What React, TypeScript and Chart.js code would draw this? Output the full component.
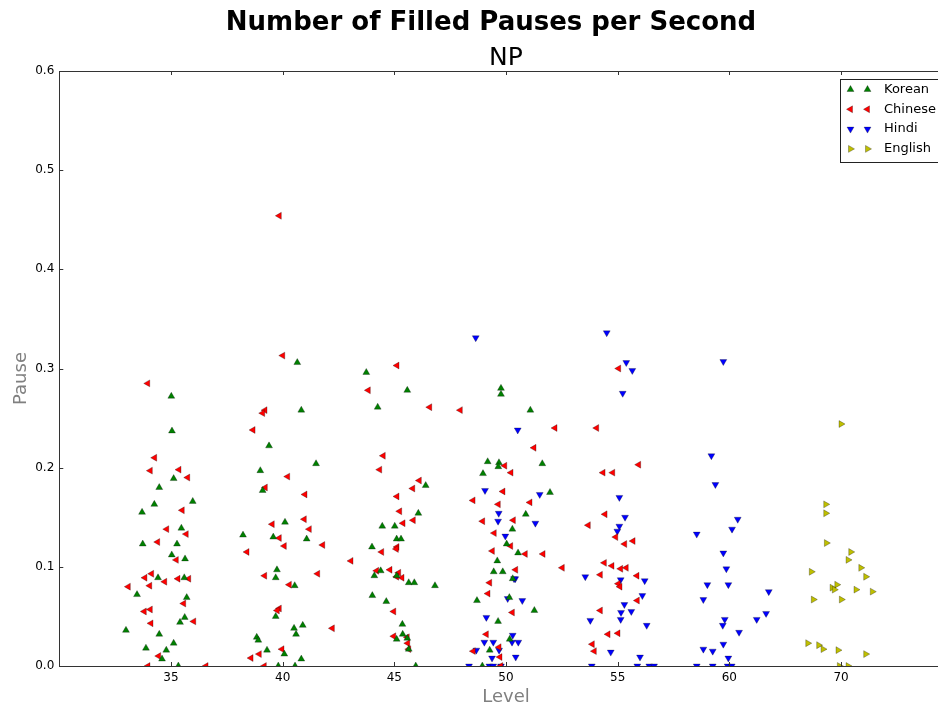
import React, { useEffect, useRef } from 'react';
import { Chart, registerables } from 'chart.js';

Chart.register(...registerables);

// Level categories sit at slots 1..7 on the x axis; points carry a small jitter around their slot.
const levels = ['35', '40', '45', '50', '55', '60', '70'];
const yTickValues = [0, 0.1, 0.2, 0.3, 0.4, 0.5, 0.6];

const koreanX = [
  1.003, 1.009, 1.024, 0.895, 1.195, 0.851, 0.741, 1.093, 0.747, 1.054, 1.007, 1.126, 0.884, 1.119, 0.696, 1.141,
  1.123, 1.081, 0.597, 0.895, 1.024, 0.776, 0.958, 0.92, 1.066,
  2.131, 2.167, 1.878, 2.299, 1.8, 1.821, 2.021, 1.645, 1.916, 2.215, 1.949, 1.938, 2.108, 1.938, 2.18, 2.102,
  2.12, 1.768, 1.782, 1.86, 2.015, 2.167, 1.961, 2.111,
  2.749, 3.116, 2.851, 3.281, 3.215, 2.892, 3.004, 3.021, 3.06, 2.8, 2.878, 2.821, 3.021, 3.129, 3.179, 2.803,
  2.928, 3.072, 3.075, 3.021, 3.116, 3.129, 3.192,
  3.955, 3.955, 4.218, 3.836, 3.937, 3.931, 4.325, 3.794, 4.394, 4.177, 4.057, 4.006, 4.108, 3.922, 3.89, 3.971,
  4.06, 3.364, 3.74, 4.03, 4.254, 3.929, 4.033, 3.854, 3.788,
];
const koreanY = [
  0.272, 0.237, 0.189, 0.18, 0.166, 0.163, 0.155, 0.139, 0.123, 0.123, 0.112, 0.108, 0.089, 0.089, 0.072, 0.069,
  0.049, 0.044, 0.036, 0.032, 0.023, 0.018, 0.016, 0.007, 0.0,
  0.306, 0.258, 0.222, 0.204, 0.197, 0.177, 0.145, 0.132, 0.13, 0.128, 0.097, 0.089, 0.081, 0.05, 0.041, 0.038,
  0.032, 0.029, 0.026, 0.016, 0.012, 0.007, 0.0, 0.0,
  0.296, 0.278, 0.261, 0.182, 0.154, 0.141, 0.141, 0.128, 0.128, 0.12, 0.096, 0.091, 0.091, 0.084, 0.084, 0.071,
  0.065, 0.042, 0.032, 0.027, 0.028, 0.017, 0.0,
  0.28, 0.274, 0.258, 0.206, 0.205, 0.201, 0.204, 0.194, 0.175, 0.153, 0.138, 0.123, 0.114, 0.106, 0.095, 0.095,
  0.088, 0.081, 0.066, 0.069, 0.056, 0.045, 0.027, 0.016, 0.0,
];

const chineseX = [
  0.792, 0.854, 0.815, 1.072, 1.15, 1.101, 0.962, 1.137, 0.881, 1.048, 0.827, 0.767, 0.944, 1.063, 1.159, 0.618,
  0.81, 1.114, 0.761, 0.815, 0.821, 1.204, 0.89, 0.794, 1.314,
  1.97, 2.001, 1.842, 1.821, 1.735, 2.045, 1.845, 2.2, 2.194, 1.907, 2.239, 1.97, 1.681, 2.015, 2.359, 1.839,
  2.314, 2.06, 1.97, 1.952, 1.994, 1.791, 1.717, 1.836,
  3.024, 2.767, 3.317, 3.591, 2.901, 2.869, 3.224, 3.165, 3.024, 3.048, 3.17, 3.078, 2.887, 3.024, 3.018, 2.612,
  2.842, 2.961, 3.039, 3.021, 3.069, 2.995, 2.445, 2.995, 3.116, 3.12, 3.129,
  4.439, 4.251, 3.989, 4.045, 3.973, 3.705, 3.931, 4.215, 3.791, 4.066, 3.895, 4.042, 3.878, 4.173, 4.332, 4.504,
  4.087, 3.854, 3.839, 4.057, 3.824, 3.707, 3.938, 3.946, 3.953,
  5.009, 4.812, 5.188, 4.869, 4.956, 4.887, 4.737, 4.983, 5.063, 5.138, 4.881, 4.949, 5.027, 5.077, 4.845, 5.173,
  5.006, 5.021, 5.176, 4.845, 4.914, 5.003, 4.773, 4.791,
];
const chineseY = [
  0.285, 0.21, 0.197, 0.198, 0.19, 0.157, 0.138, 0.133, 0.125, 0.107, 0.093, 0.089, 0.085, 0.088, 0.088, 0.08,
  0.081, 0.063, 0.055, 0.057, 0.043, 0.045, 0.01, 0.0, 0.0,
  0.454, 0.313, 0.258, 0.255, 0.238, 0.191, 0.18, 0.173, 0.148, 0.143, 0.138, 0.129, 0.115, 0.121, 0.122, 0.091,
  0.093, 0.082, 0.058, 0.056, 0.017, 0.012, 0.008, 0.0,
  0.303, 0.278, 0.261, 0.258, 0.212, 0.198, 0.187, 0.179, 0.171, 0.156, 0.147, 0.144, 0.115, 0.12, 0.118, 0.106,
  0.096, 0.097, 0.094, 0.09, 0.089, 0.055, 0.038, 0.03, 0.029, 0.023, 0.017,
  0.24, 0.22, 0.202, 0.195, 0.176, 0.167, 0.163, 0.165, 0.146, 0.147, 0.134, 0.121, 0.116, 0.113, 0.113, 0.099,
  0.097, 0.084, 0.073, 0.054, 0.032, 0.015, 0.019, 0.009, 0.0,
  0.3, 0.24, 0.203, 0.195, 0.195, 0.153, 0.142, 0.13, 0.123, 0.126, 0.104, 0.101, 0.098, 0.099, 0.092, 0.091,
  0.083, 0.08, 0.066, 0.056, 0.032, 0.033, 0.022, 0.015,
];

const hindiX = [
  3.729, 4.105, 3.812, 4.302, 3.935, 3.929, 4.263, 3.994, 4.083, 4.072, 4.015, 4.146, 3.824, 4.06, 3.806, 3.886,
  4.054, 4.11, 3.734, 3.938, 3.875, 4.087, 3.669, 3.851, 3.886, 3.955,
  4.902, 5.077, 5.131, 5.045, 5.015, 5.066, 5.015, 4.997, 4.71, 5.027, 5.242, 5.221, 5.06, 5.122, 5.03, 4.755,
  5.027, 5.26, 4.938, 5.2, 4.768, 5.176, 5.283, 5.326,
  5.946, 5.839, 5.875, 6.075, 6.024, 5.708, 5.946, 5.973, 5.803, 5.991, 6.353, 5.767, 6.329, 5.959, 6.245, 5.941,
  6.087, 5.946, 5.767, 5.851, 5.991, 5.708, 5.851, 5.985, 6.021,
];
const hindiY = [
  0.331, 0.238, 0.177, 0.173, 0.154, 0.146, 0.144, 0.131, 0.088, 0.088, 0.068, 0.066, 0.049, 0.031, 0.024, 0.024,
  0.024, 0.024, 0.016, 0.016, 0.008, 0.009, 0.0, 0.0, 0.0, 0.0,
  0.336, 0.306, 0.298, 0.275, 0.17, 0.15, 0.141, 0.136, 0.09, 0.087, 0.086, 0.071, 0.062, 0.055, 0.054, 0.046,
  0.047, 0.041, 0.014, 0.009, 0.0, 0.0, 0.0, 0.0,
  0.307, 0.212, 0.183, 0.148, 0.138, 0.133, 0.114, 0.098, 0.082, 0.082, 0.075, 0.067, 0.053, 0.047, 0.047, 0.041,
  0.034, 0.022, 0.017, 0.015, 0.008, 0.0, 0.0, 0.0, 0.0,
];

const englishX = [
  7.0, 6.863, 6.863, 6.869, 7.087, 7.063, 7.177, 6.734, 7.221, 6.962, 6.92, 6.94, 7.134, 7.28, 6.752, 7.003,
  6.702, 6.8, 6.839, 6.973, 7.221, 6.985, 7.063,
];
const englishY = [
  0.244, 0.163, 0.154, 0.124, 0.115, 0.107, 0.099, 0.095, 0.09, 0.082, 0.079, 0.077, 0.077, 0.075, 0.067, 0.067,
  0.023, 0.021, 0.017, 0.016, 0.012, 0.0, 0.0,
];

const FONT = "'DejaVu Sans', sans-serif";
const CANVAS_W = 980;
const CANVAS_H = 708;

const series = [
  { label: 'Korean', xs: koreanX, ys: koreanY, color: '#008000', rotation: 0 },
  { label: 'Chinese', xs: chineseX, ys: chineseY, color: '#ff0000', rotation: 270 },
  { label: 'Hindi', xs: hindiX, ys: hindiY, color: '#0000ff', rotation: 180 },
  { label: 'English', xs: englishX, ys: englishY, color: '#bfbf00', rotation: 90 },
];

function triangle(ctx: CanvasRenderingContext2D, x: number, y: number, r: number, rotDeg: number) {
  let rad = (rotDeg * Math.PI) / 180;
  ctx.beginPath();
  for (let k = 0; k < 3; k++) {
    const px = x + Math.sin(rad) * r;
    const py = y - Math.cos(rad) * r;
    if (k === 0) ctx.moveTo(px, py);
    else ctx.lineTo(px, py);
    rad += (2 * Math.PI) / 3;
  }
  ctx.closePath();
}

const decorPlugin = {
  id: 'decor',
  afterDraw(chart: any) {
    const { ctx, chartArea } = chart;
    const { left, right, top, bottom } = chartArea;
    const xs = chart.scales.x;
    const ysc = chart.scales.y;
    ctx.save();

    // axes frame
    ctx.strokeStyle = '#333';
    ctx.lineWidth = 1;
    ctx.strokeRect(Math.round(left) + 0.5, Math.round(top) + 0.5, Math.round(right - left), Math.round(bottom - top));

    // inward tick marks on all four sides
    ctx.beginPath();
    for (let i = 1; i <= levels.length; i++) {
      const px = Math.round(xs.getPixelForValue(i)) + 0.5;
      ctx.moveTo(px, bottom);
      ctx.lineTo(px, bottom - 4);
      ctx.moveTo(px, top);
      ctx.lineTo(px, top + 4);
    }
    for (const v of yTickValues) {
      const py = Math.round(ysc.getPixelForValue(v)) + 0.5;
      ctx.moveTo(left, py);
      ctx.lineTo(left + 4, py);
      ctx.moveTo(right, py);
      ctx.lineTo(right - 4, py);
    }
    ctx.stroke();

    // titles
    ctx.fillStyle = '#000';
    ctx.textAlign = 'center';
    ctx.textBaseline = 'middle';
    ctx.font = `bold 26px ${FONT}`;
    ctx.fillText('Number of Filled Pauses per Second', 491, 23);
    ctx.font = `25px ${FONT}`;
    ctx.fillText('NP', (left + right) / 2, 58);

    // axis titles
    ctx.fillStyle = '#808080';
    ctx.font = `18px ${FONT}`;
    ctx.fillText('Level', (left + right) / 2, 697);
    ctx.save();
    ctx.translate(21, (top + bottom) / 2 + 10);
    ctx.rotate(-Math.PI / 2);
    ctx.fillText('Pause', 0, 0);
    ctx.restore();

    // legend
    const lx = 840.5;
    const ly = 79.5;
    ctx.fillStyle = '#fff';
    ctx.fillRect(lx, ly, 120, 83);
    ctx.strokeStyle = '#222';
    ctx.strokeRect(lx, ly, 120, 83);
    ctx.font = `13px ${FONT}`;
    ctx.textAlign = 'left';
    series.forEach((s, i) => {
      const cy = 89.5 + i * 19.8;
      for (const mx of [850.5, 867.5]) {
        triangle(ctx, mx, cy, 4, s.rotation);
        ctx.fillStyle = s.color;
        ctx.fill();
        ctx.strokeStyle = 'rgba(0,0,0,0.55)';
        ctx.lineWidth = 0.5;
        ctx.stroke();
      }
      ctx.fillStyle = '#000';
      ctx.fillText(s.label, 884, cy);
    });

    ctx.restore();
  },
};

export default function App() {
  const canvasRef = useRef<HTMLCanvasElement | null>(null);

  useEffect(() => {
    const canvas = canvasRef.current;
    if (!canvas) return;
    const chart = new Chart(canvas, {
      type: 'scatter',
      data: {
        datasets: series.map((s) => ({
          label: s.label,
          data: s.xs.map((x, i) => ({ x, y: s.ys[i] })),
          pointStyle: 'triangle',
          rotation: s.rotation,
          pointRadius: 4,
          pointHoverRadius: 4,
          backgroundColor: s.color,
          borderColor: 'rgba(0,0,0,0.55)',
          borderWidth: 0.5,
        })),
      },
      options: {
        responsive: false,
        animation: false,
        events: [],
        layout: { padding: { left: 0, top: 71, right: 27.3, bottom: 0 } },
        plugins: {
          legend: { display: false },
          title: { display: false },
          tooltip: { enabled: false },
        },
        scales: {
          x: {
            type: 'linear',
            min: 0,
            max: 8,
            grid: { display: false, drawTicks: false },
            border: { display: false },
            ticks: {
              stepSize: 1,
              padding: 5,
              color: '#000',
              font: { family: FONT, size: 12 },
              maxRotation: 0,
              autoSkip: false,
              callback: (v: any) => (v >= 1 && v <= levels.length && Number.isInteger(v) ? levels[v - 1] : ''),
            },
            afterFit: (scale: any) => {
              scale.height = 42;
            },
          },
          y: {
            type: 'linear',
            min: 0,
            max: 0.6,
            grid: { display: false, drawTicks: false },
            border: { display: false },
            ticks: {
              stepSize: 0.1,
              padding: 5,
              color: '#000',
              font: { family: FONT, size: 12 },
              callback: (v: any) => Number(v).toFixed(1),
            },
            afterFit: (scale: any) => {
              scale.width = 59.3;
            },
          },
        },
      },
      plugins: [decorPlugin],
    });
    return () => chart.destroy();
  }, []);

  return (
    <div
      style={{
        position: 'fixed',
        left: 0,
        top: 0,
        width: 938,
        height: 708,
        overflow: 'hidden',
        background: '#fff',
      }}
    >
      <canvas ref={canvasRef} width={CANVAS_W} height={CANVAS_H} style={{ display: 'block' }} />
    </div>
  );
}
